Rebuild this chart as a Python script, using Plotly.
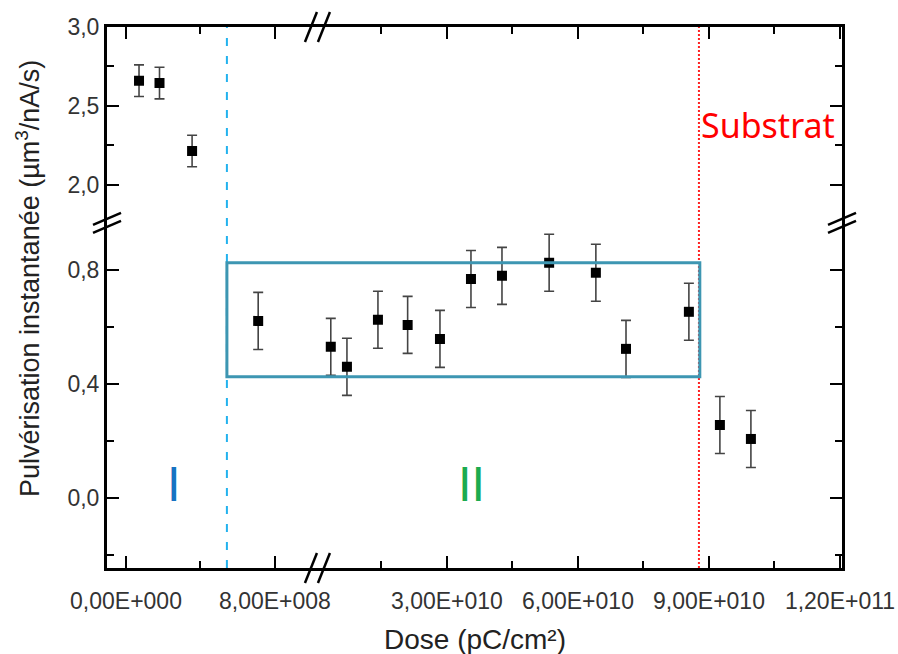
import plotly.graph_objects as go

# --- data ---
dose = [7.0e7, 1.8e8, 3.55e8, 7.1e8, 3.4e9, 7.1e9, 1.42e10, 2.1e10, 2.84e10,
        3.55e10, 4.26e10, 5.34e10, 6.41e10, 7.1e10, 8.54e10, 9.25e10, 9.96e10]
rate = [2.66, 2.645, 2.215, 0.621, 0.53, 0.46, 0.625, 0.607, 0.558,
        0.768, 0.779, 0.825, 0.79, 0.523, 0.653, 0.256, 0.207]
rate_err = [0.1, 0.1, 0.1, 0.1, 0.1, 0.1, 0.1, 0.1, 0.1,
            0.1, 0.1, 0.1, 0.1, 0.1, 0.1, 0.1, 0.1]

x1_tickvals = [0, 8e8]
x1_ticktext = ["0,00E+000", "8,00E+008"]
x2_tickvals = [3e10, 6e10, 9e10, 1.2e11]
x2_ticktext = ["3,00E+010", "6,00E+010", "9,00E+010", "1,20E+011"]

zone_limit = 5.42e8       # boundary zone I / II (dashed blue)
substrate_limit = 8.77e10  # substrate reached (red dotted)
box_right = 8.79e10
box_low, box_high = 0.425, 0.825

# --- broken axes geometry ---
X1_RANGE = [-1.02e8, 1.031e9]
X2_RANGE = [4.6e8, 1.2046e11]
Y1_RANGE = [-0.2456, 0.965]   # lower part
Y2_RANGE = [1.76, 3.0]        # upper part
X_SPLIT = 0.287
Y_SPLIT = 0.638
X_BREAK_VAL = 1.0e9
Y_BREAK_VAL = 1.3

FONT = "Liberation Sans, Arial, sans-serif"
TICK_FONT = dict(family=FONT, size=23, color="#333333")


def to_paper(v, rng, dom):
    return dom[0] + (v - rng[0]) / (rng[1] - rng[0]) * (dom[1] - dom[0])


fig = go.Figure()

combos = [("x", "y", lambda d, r: d < X_BREAK_VAL and r < Y_BREAK_VAL),
          ("x", "y2", lambda d, r: d < X_BREAK_VAL and r >= Y_BREAK_VAL),
          ("x2", "y", lambda d, r: d >= X_BREAK_VAL and r < Y_BREAK_VAL),
          ("x2", "y2", lambda d, r: d >= X_BREAK_VAL and r >= Y_BREAK_VAL)]

for xa, ya, keep in combos:
    idx = [i for i in range(len(dose)) if keep(dose[i], rate[i])]
    if not idx:
        continue
    fig.add_trace(go.Scatter(
        x=[dose[i] for i in idx],
        y=[rate[i] for i in idx],
        error_y=dict(type='data', array=[rate_err[i] for i in idx],
                     color='#444444', thickness=1.6, width=5),
        mode='markers',
        marker=dict(symbol='square', size=10, color='black'),
        xaxis=xa, yaxis=ya,
        showlegend=False,
        hovertemplate="%{x:.2e}<br>%{y:.3f}<extra></extra>",
    ))

# empty traces so the mirrored frame axes get drawn
for xa, ya in [("x3", "y2"), ("x4", "y2"), ("x", "y3"), ("x", "y4")]:
    fig.add_trace(go.Scatter(x=[], y=[], xaxis=xa, yaxis=ya,
                             showlegend=False, hoverinfo='skip'))

common = dict(showline=True, linewidth=3, linecolor='black', showgrid=False,
              zeroline=False, ticks='inside', ticklen=12, tickwidth=2,
              tickcolor='black', tickfont=TICK_FONT, automargin=False)
minor_len = dict(ticklen=7, tickwidth=2, tickcolor='black', ticks='inside')

fig.update_layout(
    xaxis=dict(domain=[0, X_SPLIT], anchor='y', range=X1_RANGE,
               tickmode='array', tickvals=x1_tickvals, ticktext=x1_ticktext,
               ticklabelstandoff=10,
               minor=dict(dtick=4e8, tick0=0, **minor_len), **common),
    xaxis2=dict(domain=[X_SPLIT, 1], anchor='y', range=X2_RANGE,
                tickmode='array', tickvals=x2_tickvals, ticktext=x2_ticktext,
                ticklabelstandoff=10,
                minor=dict(dtick=1.5e10, tick0=0, **minor_len), **common),
    xaxis3=dict(overlaying='x', anchor='y2', side='top', range=X1_RANGE,
                tickmode='array', tickvals=x1_tickvals, showticklabels=False,
                minor=dict(dtick=4e8, tick0=0, **minor_len), **common),
    xaxis4=dict(overlaying='x2', anchor='y2', side='top', range=X2_RANGE,
                tickmode='array', tickvals=x2_tickvals, showticklabels=False,
                minor=dict(dtick=1.5e10, tick0=0, **minor_len), **common),
    yaxis=dict(domain=[0, Y_SPLIT], anchor='x', range=Y1_RANGE,
               tick0=0, dtick=0.4, tickformat='.1f',
               minor=dict(dtick=0.2, tick0=0, **minor_len), **common),
    yaxis2=dict(domain=[Y_SPLIT, 1], anchor='x', range=Y2_RANGE,
                tick0=0, dtick=0.5, tickformat='.1f',
                minor=dict(dtick=0.25, tick0=0, **minor_len), **common),
    yaxis3=dict(overlaying='y', anchor='x2', side='right', range=Y1_RANGE,
                tick0=0, dtick=0.4, showticklabels=False,
                minor=dict(dtick=0.2, tick0=0, **minor_len), **common),
    yaxis4=dict(overlaying='y2', anchor='x2', side='right', range=Y2_RANGE,
                tick0=0, dtick=0.5, showticklabels=False,
                minor=dict(dtick=0.25, tick0=0, **minor_len), **common),
    separators=', ',
    width=898, height=654,
    margin=dict(l=107, r=56, t=27, b=86),
    plot_bgcolor='white', paper_bgcolor='white',
)

# zone boundaries
fig.add_shape(type='line', xref='x', yref='paper', x0=zone_limit, x1=zone_limit,
              y0=0, y1=1, line=dict(color='#22b2ee', width=2, dash='8px,10px'))
fig.add_shape(type='line', xref='x2', yref='paper', x0=substrate_limit,
              x1=substrate_limit, y0=0, y1=1,
              line=dict(color='#ff2020', width=2, dash='2px,2px'))

# plateau box spanning both x segments
fig.add_shape(type='rect', xref='paper', yref='y',
              x0=to_paper(zone_limit, X1_RANGE, [0, X_SPLIT]),
              x1=to_paper(box_right, X2_RANGE, [X_SPLIT, 1]),
              y0=box_low, y1=box_high,
              line=dict(color='#3d96b2', width=3))

# axis break marks "//"
slash = dict(color='black', width=2.5)
for ya in (0, 1):
    for dx in (-13, 0):
        fig.add_shape(type='line', xref='paper', yref='paper',
                      xsizemode='pixel', ysizemode='pixel',
                      xanchor=X_SPLIT, yanchor=ya,
                      x0=dx, y0=-15, x1=dx + 12, y1=15, line=slash)
for xa in (0, 1):
    for dy in (4, -4):
        fig.add_shape(type='line', xref='paper', yref='paper',
                      xsizemode='pixel', ysizemode='pixel',
                      xanchor=xa, yanchor=Y_SPLIT,
                      x0=-14, y0=dy - 6, x1=14, y1=dy + 6, line=slash)

# labels
fig.add_annotation(x=2.58e8, y=0.046, xref='x', yref='y', text="I",
                   showarrow=False, font=dict(family="DejaVu Sans", size=46, color='#1673c2'))
fig.add_annotation(x=3.57e10, y=0.046, xref='x2', yref='y', text="II",
                   showarrow=False, font=dict(family="DejaVu Sans", size=46, color='#1bab4f'))
fig.add_annotation(x=substrate_limit, y=2.38, xref='x2', yref='y2', text="Substrat",
                   xanchor='left', showarrow=False,
                   font=dict(family="Noto Sans", size=34, color='#ff0000'))

fig.add_annotation(x=0.5, y=-0.133, xref='paper', yref='paper', yanchor='middle',
                   text="Dose (pC/cm²)", showarrow=False,
                   font=dict(family=FONT, size=28, color='#222222'))
fig.add_annotation(x=-0.1075, y=0.536, xref='paper', yref='paper',
                   xanchor='center', yanchor='middle', textangle=-90,
                   text="Pulvérisation instantanée (µm<sup>3</sup>/nA/s)", showarrow=False,
                   font=dict(family=FONT, size=27, color='#222222'))

# the page body has a default 8px margin; drop it so the figure fills the window
fig.write_html("out.html", config={'displayModeBar': False},
               post_script="document.body.style.margin='0';")
